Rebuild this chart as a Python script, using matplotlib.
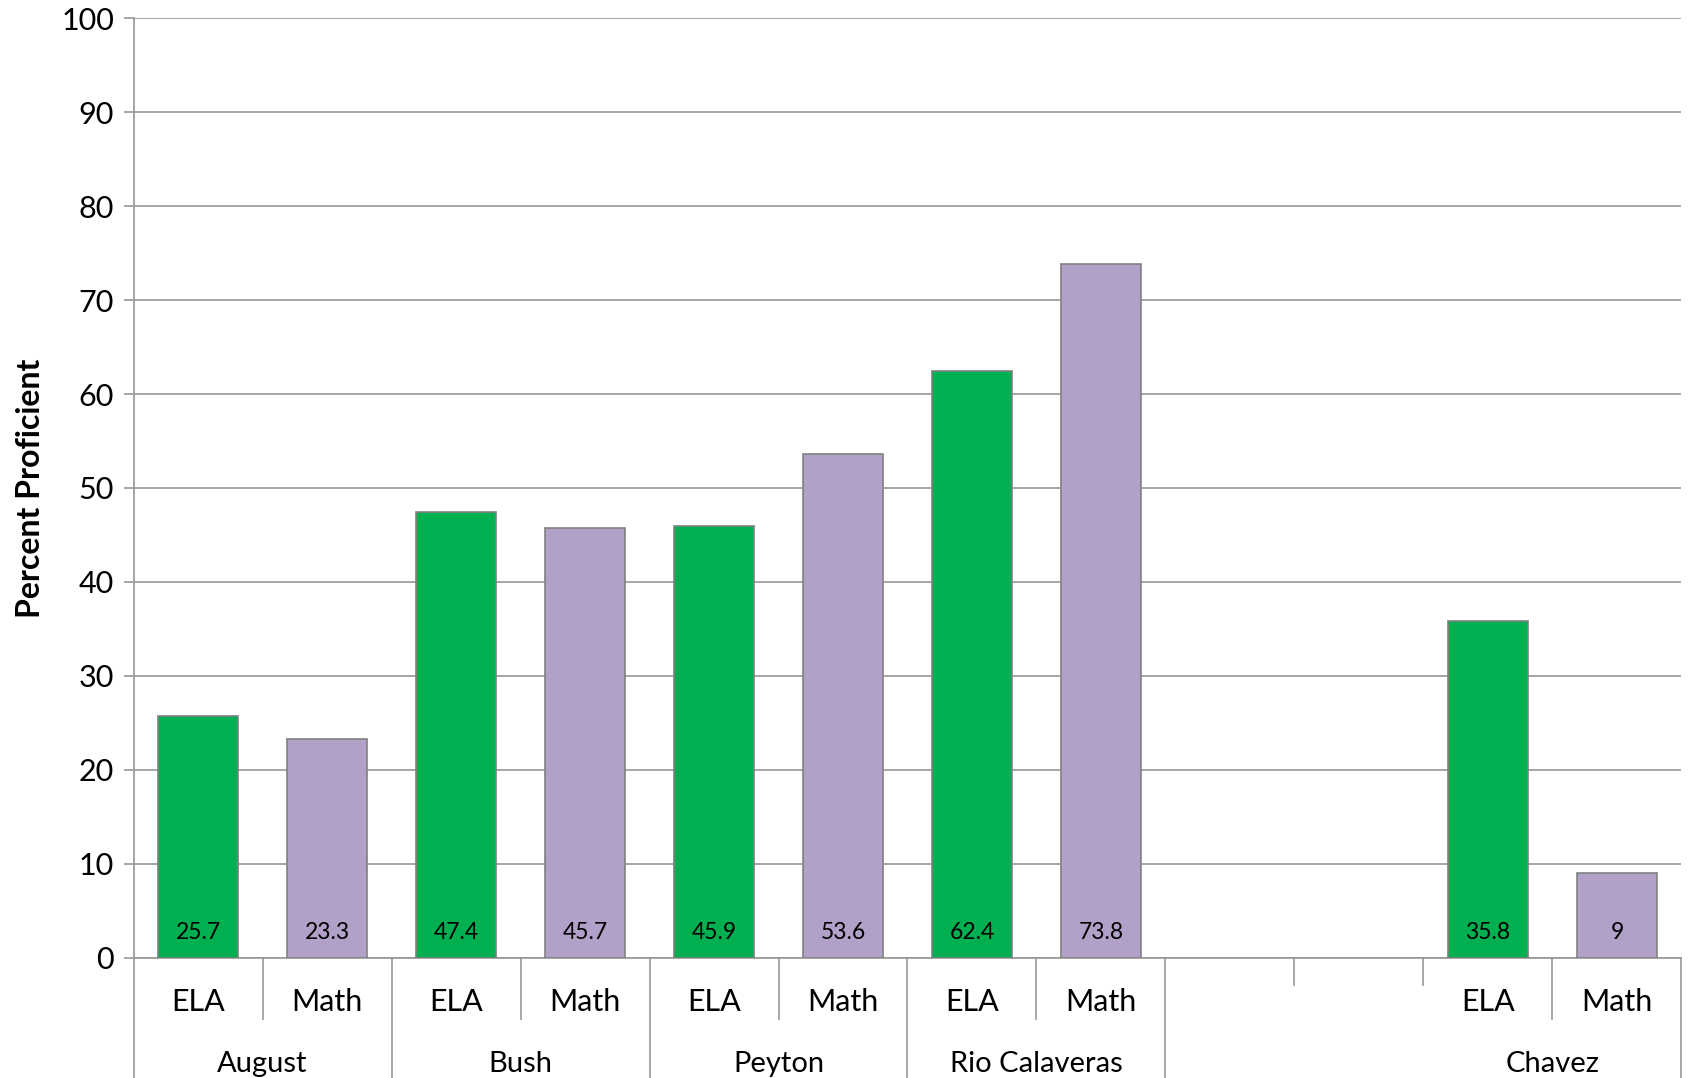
import numpy as np
import matplotlib.pyplot as plt

plt.rcParams["font.family"] = ["Lato", "DejaVu Sans"]

schools = ["August", "Bush", "Peyton", "Rio Calaveras", "", "Chavez"]
subjects = ["ELA", "Math"]
ela = [25.7, 47.4, 45.9, 62.4, None, 35.8]
math = [23.3, 45.7, 53.6, 73.8, None, 9]
yticks = list(range(0, 101, 10))

green = "#00B050"
purple = "#B1A0C7"
edge = "#808080"
grid = "#979797"

fig = plt.figure(figsize=(16.89, 10.78), dpi=100)
ax = fig.add_axes([0.0791, 0.1117, 0.9164, 0.8713])

width = 0.62
for i, (e, m) in enumerate(zip(ela, math)):
    for j, (v, c) in enumerate([(e, green), (m, purple)]):
        if v is None:
            continue
        x = 2 * i + j + 0.5
        ax.bar(x, v, width, color=c, edgecolor=edge, linewidth=1.2, zorder=3)
        ax.annotate(f"{v:g}", (x, 0), xytext=(0, 18), textcoords="offset points",
                    ha="center", va="center", fontsize=16.5, zorder=4)

ax.set_xlim(0, 2 * len(schools))
ax.set_ylim(0, 100)
ax.set_yticks(yticks)
ax.tick_params(axis="y", labelsize=22, length=7, width=1.2, color=grid, pad=7)
ax.set_xticks([])
ax.yaxis.grid(True, color=grid, linewidth=1.2, zorder=0)
ax.set_axisbelow(True)
for s in ["top", "right"]:
    ax.spines[s].set_visible(False)
ax.spines["left"].set_color(grid)
ax.spines["left"].set_linewidth(1.2)
ax.spines["bottom"].set_color(grid)
ax.spines["bottom"].set_linewidth(1.2)
ax.set_ylabel("Percent Proficient", fontsize=23, fontweight="bold", labelpad=12)

# multi-level category axis
tr = ax.get_xaxis_transform()
for k in range(0, 2 * len(schools) + 1):
    if k in (9, 10):
        depth = -0.029
    elif k % 2 == 0:
        depth = -0.13
    else:
        depth = -0.065
    ax.plot([k, k], [0, depth], transform=tr, color=grid, lw=1.2, clip_on=False)

for i, name in enumerate(schools):
    if name == "":
        continue
    for j, sub in enumerate(subjects):
        ax.text(2 * i + j + 0.5, -0.047, sub, transform=tr, ha="center", va="center", fontsize=22)
    ax.text(2 * i + 1, -0.113, name, transform=tr, ha="center", va="center", fontsize=21)

fig.savefig("out.png", dpi=100)
